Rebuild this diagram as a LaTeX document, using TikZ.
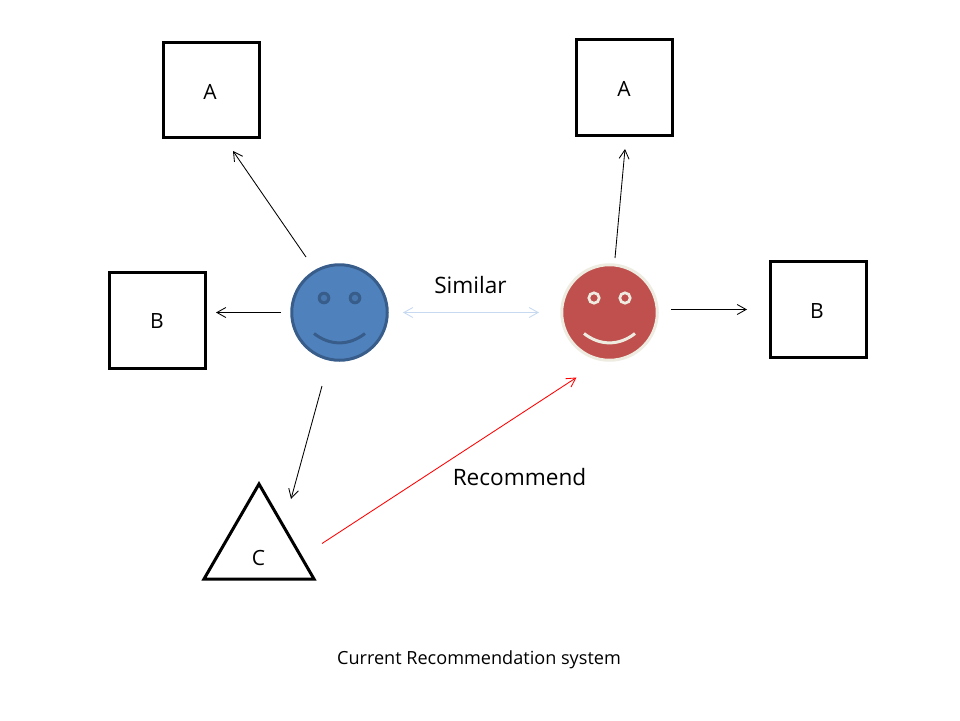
\documentclass[tikz,border=0pt]{standalone}
\usepackage{fontspec}
\setmainfont{Open Sans}
\usetikzlibrary{arrows.meta}
\definecolor{blueF}{HTML}{4F81BD}
\definecolor{blueD}{HTML}{385D8A}
\definecolor{redF}{HTML}{C0504D}
\definecolor{redL}{HTML}{EEECE1}
\definecolor{simC}{HTML}{C6D9F1}
\tikzset{
  x=1pt,y=-1pt,
  box/.style={draw=black,line width=3pt,minimum size=95.3pt,inner sep=0pt},
  face/.style={circle,line width=3pt,minimum size=95.5pt,inner sep=0pt},
  letter/.style={inner sep=0pt,font=\fontsize{21}{25}\selectfont},
  lbl/.style={inner sep=0pt,font=\fontsize{22.6}{27}\selectfont},
  conn/.style={line width=0.85pt,-{Straight Barb[length=9pt,width=10pt,line width=0.85pt]}},
}
\begin{document}
\begin{tikzpicture}
\useasboundingbox (0,0) rectangle (960,720);
\fill[white] (0,0) rectangle (960,720);
% boxes
\node[box] (a1) at (211.5,90) {};
\node[box] (a2) at (624.5,87.5) {};
\node[box] (b1) at (157.5,320.5) {};
\node[box] (b2) at (818.5,309.5) {};
\node[letter] (ta1) at (210,92) {A};
\node[letter] (ta2) at (624,89) {A};
\node[letter] (tb1) at (157,321) {B};
\node[letter] (tb2) at (817,311) {B};
% triangle
\coordinate (t1) at (259,484);
\coordinate (t2) at (314,579);
\coordinate (t3) at (204,579);
\draw[line width=3pt,line join=miter] (t1) -- (t2) -- (t3) -- cycle;
\node[letter] (tc) at (258.5,557.5) {C};
% faces
\node[face,draw=blueD,fill=blueF] (blue) at (339.5,312.5) {};
\node[face,draw=redL,fill=redF] (red) at (609.5,312.5) {};
\fill[blueD] (324,298) circle (6.3);
\fill[blueD] (355,298) circle (6.3);
\fill[blueF!70!blueD] (324,298) circle (3.2);
\fill[blueF!70!blueD] (355,298) circle (3.2);
\draw[blueD,line width=3pt] (314,333.5) .. controls (330,346) and (349,346) .. (365,333.5);
\draw[redL,line width=2.7pt,fill=redF] (594,298) circle (5.2);
\draw[redL,line width=2.7pt,fill=redF] (625,298) circle (5.2);
\draw[redL,line width=3pt] (584,333.5) .. controls (600,346) and (619,346) .. (635,333.5);
% connector ends
\coordinate (s1) at (306,257);
\coordinate (e1) at (233,151);
\coordinate (s2) at (281,312.5);
\coordinate (e2) at (216,312.5);
\coordinate (s3) at (322,386);
\coordinate (e3) at (291,499);
\coordinate (s4) at (615,258);
\coordinate (e4) at (625,149);
\coordinate (s5) at (671,309.5);
\coordinate (e5) at (747,309.5);
\coordinate (s6) at (322,543.5);
\coordinate (e6) at (576.5,377.5);
\coordinate (s7) at (403,312.5);
\coordinate (e7) at (539,312.5);
\draw[conn] (s1) -- (e1);
\draw[conn] (s2) -- (e2);
\draw[conn] (s3) -- (e3);
\draw[conn] (s4) -- (e4);
\draw[conn] (s5) -- (e5);
\draw[conn,draw=red] (s6) -- (e6);
\draw[draw=simC,line width=0.85pt,{Straight Barb[length=9pt,width=10pt,line width=0.85pt]}-{Straight Barb[length=9pt,width=10pt,line width=0.85pt]}] (s7) -- (e7);
% labels
\node[lbl] (sim) at (470.5,285) {Similar};
\node[lbl] (rec) at (519.5,477) {Recommend};
\node[inner sep=0pt,font=\fontsize{18.1}{22}\selectfont] (cap) at (479,660) {Current Recommendation system};
\end{tikzpicture}
\end{document}
